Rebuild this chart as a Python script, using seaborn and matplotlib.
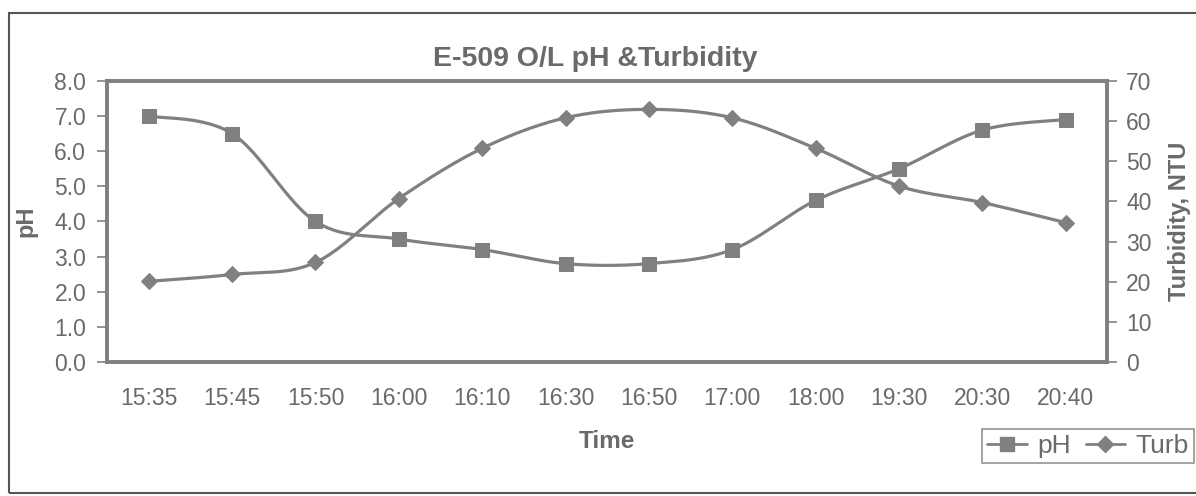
import numpy as np
import pandas as pd
import matplotlib
matplotlib.use("Agg")
import matplotlib.pyplot as plt
import seaborn as sns
from matplotlib.patches import Rectangle
from matplotlib.lines import Line2D

times = ["15:35", "15:45", "15:50", "16:00", "16:10", "16:30",
         "16:50", "17:00", "18:00", "19:30", "20:30", "20:40"]
ph = [7.0, 6.5, 4.0, 3.5, 3.2, 2.8, 2.8, 3.2, 4.6, 5.5, 6.6, 6.9]
turb = [20.1, 21.8, 24.8, 40.7, 53.2, 60.8, 62.9, 60.8, 53.2, 43.8, 39.7, 34.7]

sns.set_theme(style="white")
plt.rcParams['font.family'] = ['Liberation Sans', 'DejaVu Sans']

GREY = "#808080"
TXT = "#6a6a6a"


def smooth(xs, ys, n=30):
    # Catmull-Rom style smoothing through the data points (Excel "smoothed line")
    xs = np.asarray(xs, float); ys = np.asarray(ys, float)
    px = np.concatenate([[xs[0]], xs, [xs[-1]]])
    py = np.concatenate([[ys[0]], ys, [ys[-1]]])
    ox, oy = [], []
    for i in range(1, len(px) - 2):
        p0 = np.array([px[i-1], py[i-1]]); p1 = np.array([px[i], py[i]])
        p2 = np.array([px[i+1], py[i+1]]); p3 = np.array([px[i+2], py[i+2]])
        c1 = p1 + (p2 - p0) / 6.0
        c2 = p2 - (p3 - p1) / 6.0
        t = np.linspace(0, 1, n)[:, None]
        b = (1-t)**3*p1 + 3*(1-t)**2*t*c1 + 3*(1-t)*t**2*c2 + t**3*p2
        ox.extend(b[:, 0]); oy.extend(b[:, 1])
    return np.array(ox), np.array(oy)


fig = plt.figure(figsize=(11.96, 4.96), dpi=100)
ax = fig.add_axes([0.0895, 0.270, 0.8365, 0.567])
ax2 = ax.twinx()

x = np.arange(len(times))
df = pd.DataFrame({"x": x, "pH": ph, "Turb": turb})

sx, sy = smooth(x, ph)
ax.plot(sx, sy, color=GREY, lw=2.3, zorder=2)
sns.lineplot(data=df, x="x", y="pH", ax=ax, marker="s", markersize=10,
             color=GREY, lw=0, markeredgecolor=GREY, legend=False, zorder=3)

tx, ty = smooth(x, turb)
ax2.plot(tx, ty, color=GREY, lw=2.3, zorder=2)
sns.lineplot(data=df, x="x", y="Turb", ax=ax2, marker="D", markersize=8.5,
             color=GREY, lw=0, markeredgecolor=GREY, legend=False, zorder=3)

ax.set_xlim(-0.5, len(times) - 0.5)
ax.set_ylim(0, 8)
ax2.set_ylim(0, 70)
ax.set_yticks(np.arange(0, 8.01, 1.0))
ax.set_yticklabels([f"{v:.1f}" for v in np.arange(0, 8.01, 1.0)])
ax2.set_yticks(np.arange(0, 71, 10))

ax.set_xticks(x)
ax.set_xticklabels(times)
ax.set_xticks(np.arange(-0.5, len(times), 1.0), minor=True)
ax.tick_params(axis="x", which="major", length=0, pad=18, labelsize=16.5, labelcolor=TXT)
ax.tick_params(axis="x", which="minor", length=6, width=1.2, color=GREY, direction="out")
ax.tick_params(axis="y", length=7, width=1.2, color=GREY, direction="out", left=True,
               labelsize=16.5, labelcolor=TXT, pad=8)
ax2.tick_params(axis="y", length=7, width=1.2, color=GREY, direction="out", right=True,
                labelsize=16.5, labelcolor=TXT, pad=6.5)

for a in (ax, ax2):
    for s in a.spines.values():
        s.set_color(GREY)
        s.set_linewidth(2.6)
    a.grid(False)

ax.set_xlabel("Time", fontsize=17.5, fontweight="bold", color=TXT, labelpad=14)
ax.set_ylabel("pH", fontsize=17, fontweight="bold", color=TXT, labelpad=12)
ax2.set_ylabel("Turbidity, NTU", fontsize=17, fontweight="bold", color=TXT, labelpad=12)
ax.set_title("E-509 O/L pH &Turbidity", fontsize=20.5, fontweight="bold", color=TXT,
             pad=11, x=0.488)

handles = [Line2D([], [], color=GREY, lw=2, marker="s", markersize=10),
           Line2D([], [], color=GREY, lw=2, marker="D", markersize=8)]
leg = fig.legend(handles, ["pH", "Turb"], loc="center left",
                 bbox_to_anchor=(982 / 1196, 1 - 446 / 496),
                 ncol=2, frameon=True, fontsize=19, handlelength=1.5, columnspacing=0.55,
                 handletextpad=0.4, borderpad=0.2, borderaxespad=0.0, fancybox=False)
leg.get_frame().set_edgecolor("#777777")
leg.get_frame().set_linewidth(1.2)
for t in leg.get_texts():
    t.set_color(TXT)

fig.patches.append(Rectangle((9 / 1196, 3 / 496), 1.05, 0.968, transform=fig.transFigure,
                             fill=False, edgecolor="#555555", lw=1.5))

fig.savefig("out.png", dpi=100, facecolor="white")
